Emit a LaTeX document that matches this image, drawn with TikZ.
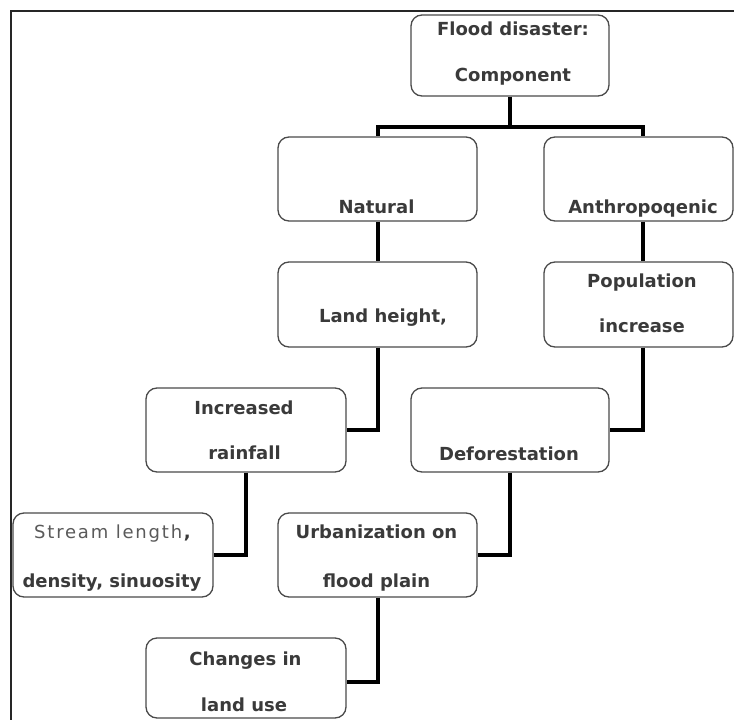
\documentclass[tikz,border=0pt]{standalone}
\usepackage{fontspec}
\setmainfont{DejaVu Sans}
\usetikzlibrary{calc}
\definecolor{txt}{HTML}{3A3A3A}
\definecolor{txtl}{HTML}{5A5A5A}
\definecolor{edge}{HTML}{4A4A4A}
\tikzset{
  box/.style={draw=edge, line width=1.3bp, rounded corners=11bp, fill=white, inner sep=0pt},
  lbl/.style={anchor=base, inner sep=0pt, text=txt, font=\fontsize{18bp}{21bp}\selectfont\bfseries},
  lbll/.style={anchor=base, inner sep=0pt, text=txtl, font=\fontsize{18bp}{21bp}\selectfont\addfontfeature{LetterSpace=10}},
  link/.style={line width=4bp, black},
  frame/.style={line width=2bp, draw=black!85}
}
\begin{document}
\begin{tikzpicture}[x=1bp,y=-1bp]
\useasboundingbox (0,0) rectangle (734,720);
\draw[frame] (11,725) -- (11,11) -- (740,11);

% boxes
\node[box, minimum width=198bp, minimum height=81bp] (flood) at (510,55.5) {};
\node[box, minimum width=199bp, minimum height=84bp] (natural) at (377.5,179) {};
\node[box, minimum width=189bp, minimum height=84bp] (anthro) at (638.5,179) {};
\node[box, minimum width=199bp, minimum height=85bp] (land) at (377.5,304.5) {};
\node[box, minimum width=189bp, minimum height=85bp] (pop) at (638.5,304.5) {};
\node[box, minimum width=200bp, minimum height=84bp] (rain) at (246,430) {};
\node[box, minimum width=198bp, minimum height=84bp] (defor) at (510,430) {};
\node[box, minimum width=200bp, minimum height=84bp] (stream) at (113,555) {};
\node[box, minimum width=199bp, minimum height=84bp] (urban) at (377.5,555) {};
\node[box, minimum width=200bp, minimum height=80bp] (changes) at (246,678) {};

% connectors
\coordinate (bar) at (510,127);
\draw[link] (flood.south) -- (bar);
\draw[link] (bar) -| (natural.north);
\draw[link] (bar) -| ($(anthro.north)+(4.5,0)$);
\draw[link] (natural.south) -- (land.north);
\draw[link] ($(anthro.south)+(4.5,0)$) -- ($(pop.north)+(4.5,0)$);
\draw[link] (land.south) |- (rain.east);
\draw[link] ($(pop.south)+(4.5,0)$) |- (defor.east);
\draw[link] (rain.south) |- (stream.east);
\draw[link] (defor.south) |- (urban.east);
\draw[link] (urban.south) |- ($(changes.east)+(0,4)$);

% labels
\node[lbl] (t1) at (513,36) {Flood disaster:};
\node[lbl] (t2) at (513,82) {Component};
\node[lbl] (t3) at (376.5,213) {Natural};
\node[lbl] (t4) at (643,213) {Anthropoqenic};
\node[lbl] (t5) at (383,322) {Land height,};
\node[lbl] (t6) at (642,287) {Population};
\node[lbl] (t7) at (642,332) {increase};
\node[lbl] (t8) at (244,414) {Increased};
\node[lbl] (t9) at (244.5,459) {rainfall};
\node[lbl] (t10) at (509,460) {Deforestation};
\node[lbll] (t11) at (112.5,538) {Stream length\textbf{\color{txt},}};
\node[lbl] (t12) at (112,587) {density, sinuosity};
\node[lbl] (t13) at (376.5,538) {Urbanization on};
\node[lbl] (t14) at (376.5,587) {flood plain};
\node[lbl] (t15) at (245.5,665) {Changes in};
\node[lbl] (t16) at (244,711) {land use};
\end{tikzpicture}
\end{document}
